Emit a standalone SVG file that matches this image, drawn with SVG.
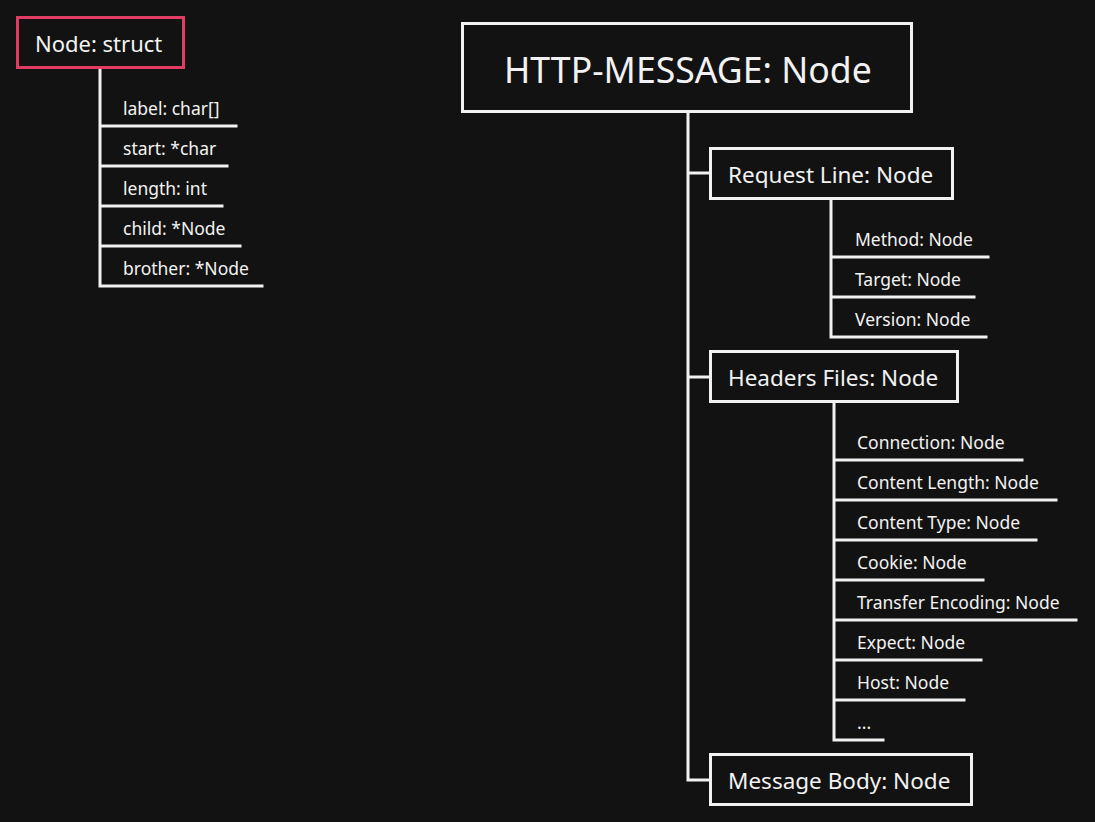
<svg xmlns="http://www.w3.org/2000/svg" width="1095" height="822" viewBox="0 0 1095 822">
<style>
.bg{fill:#121212}
.box{fill:#121212;stroke:#f2f2f2;stroke-width:3}
.pink{fill:#121212;stroke:#e03c64;stroke-width:3}
.ln{fill:none;stroke:#f2f2f2;stroke-width:3;stroke-linecap:square}
text{font-family:"Noto Sans","Open Sans","DejaVu Sans",sans-serif;fill:#f2f2f2}
.t1{font-size:35.6px}
.t2{font-size:22.5px}
.t3{font-size:17.5px}
.t4{font-size:22px}
</style>
<rect class="bg" x="0" y="0" width="1095" height="822"/>
<g id="connectors">
<path class="ln" d="M100,68 V286 M100,126 H236 M100,166 H227 M100,206 H222 M100,246 H240 M100,286 H262"/>
<path class="ln" d="M688,112 V780 H710 M688,173 H710 M688,377 H710"/>
<path class="ln" d="M831,199 V337 M831,257 H988 M831,297 H974 M831,337 H986"/>
<path class="ln" d="M834,402 V740 M834,460 H1022 M834,500 H1056 M834,540 H1036 M834,580 H983 M834,620 H1076 M834,660 H981 M834,700 H964 M834,740 H883"/>
</g>
<g id="node-struct">
<rect class="pink" x="17.5" y="17.5" width="166" height="50"/>
<text class="t4" x="35" y="52">Node: struct</text>
</g>
<g id="struct-fields">
<text class="t3" x="123" y="115">label: char[]</text>
<text class="t3" x="123" y="155">start: *char</text>
<text class="t3" x="123" y="195">length: int</text>
<text class="t3" x="123" y="235">child: *Node</text>
<text class="t3" x="123" y="275">brother: *Node</text>
</g>
<g id="http-message">
<rect class="box" x="462.5" y="23.5" width="449" height="88"/>
<text class="t1" x="504" y="83">HTTP-MESSAGE: Node</text>
</g>
<g id="request-line">
<rect class="box" x="710.5" y="148.5" width="242" height="50"/>
<text class="t2" x="728" y="183">Request Line: Node</text>
</g>
<g id="request-line-children">
<text class="t3" x="855" y="246">Method: Node</text>
<text class="t3" x="855" y="286">Target: Node</text>
<text class="t3" x="855" y="326">Version: Node</text>
</g>
<g id="headers-files">
<rect class="box" x="710.5" y="351.5" width="247" height="50"/>
<text class="t2" x="728" y="386">Headers Files: Node</text>
</g>
<g id="headers-children">
<text class="t3" x="857" y="449">Connection: Node</text>
<text class="t3" x="857" y="489">Content Length: Node</text>
<text class="t3" x="857" y="529">Content Type: Node</text>
<text class="t3" x="857" y="569">Cookie: Node</text>
<text class="t3" x="857" y="609">Transfer Encoding: Node</text>
<text class="t3" x="857" y="649">Expect: Node</text>
<text class="t3" x="857" y="689">Host: Node</text>
<text class="t3" x="857" y="729">...</text>
</g>
<g id="message-body">
<rect class="box" x="710.5" y="754.5" width="261" height="50"/>
<text class="t2" x="728" y="789">Message Body: Node</text>
</g>
</svg>
